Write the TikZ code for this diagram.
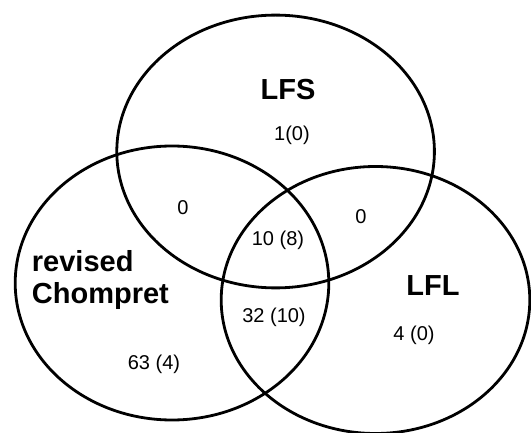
\documentclass[tikz,border=0pt]{standalone}
\usepackage{fontspec}
\setmainfont{Liberation Sans}
\usepackage{tikz}

\tikzset{
  setname/.style={font=\fontsize{29}{32}\selectfont\bfseries, inner sep=0.75pt},
  setcount/.style={font=\fontsize{20}{22}\selectfont, inner sep=0.75pt},
  venn/.style={line width=2.8pt}
}

\begin{document}
\begin{tikzpicture}[x=1pt,y=1pt,yscale=-1,xscale=1]
\useasboundingbox (0,0) rectangle (531,433);

%Shape: Ellipse LFS
\draw [venn] (275.6,151.5) ellipse [x radius=158.8, y radius=136.4];
%Shape: Ellipse revised Chompret
\draw [venn] (172,283) ellipse [x radius=156.8, y radius=137];
%Shape: Ellipse LFL
\draw [venn] (375.5,300) ellipse [x radius=154.3, y radius=133.5];

% Text Node
\node [setname] (lfs) at (288,90) {LFS};
% Text Node
\node [setname] (lfl) at (433,286) {LFL};
% Text Node
\node [setname, anchor=west] (rev) at (31,261) {revised};
% Text Node
\node [setname, anchor=west] (chomp) at (31,296) {Chompret};
% Text Node
\node [setcount] (nlfs) at (292,135) {1(0)};
% Text Node
\node [setcount] (nlfsrc) at (183,208) {0};
% Text Node
\node [setcount] (nlfslfl) at (361,217) {0};
% Text Node
\node [setcount] (nall) at (278,240) {10 (8)};
% Text Node
\node [setcount] (nrclfl) at (274,317) {32 (10)};
% Text Node
\node [setcount] (nlfl) at (414,335) {4 (0)};
% Text Node
\node [setcount] (nrc) at (154,364) {63 (4)};

\end{tikzpicture}
\end{document}
